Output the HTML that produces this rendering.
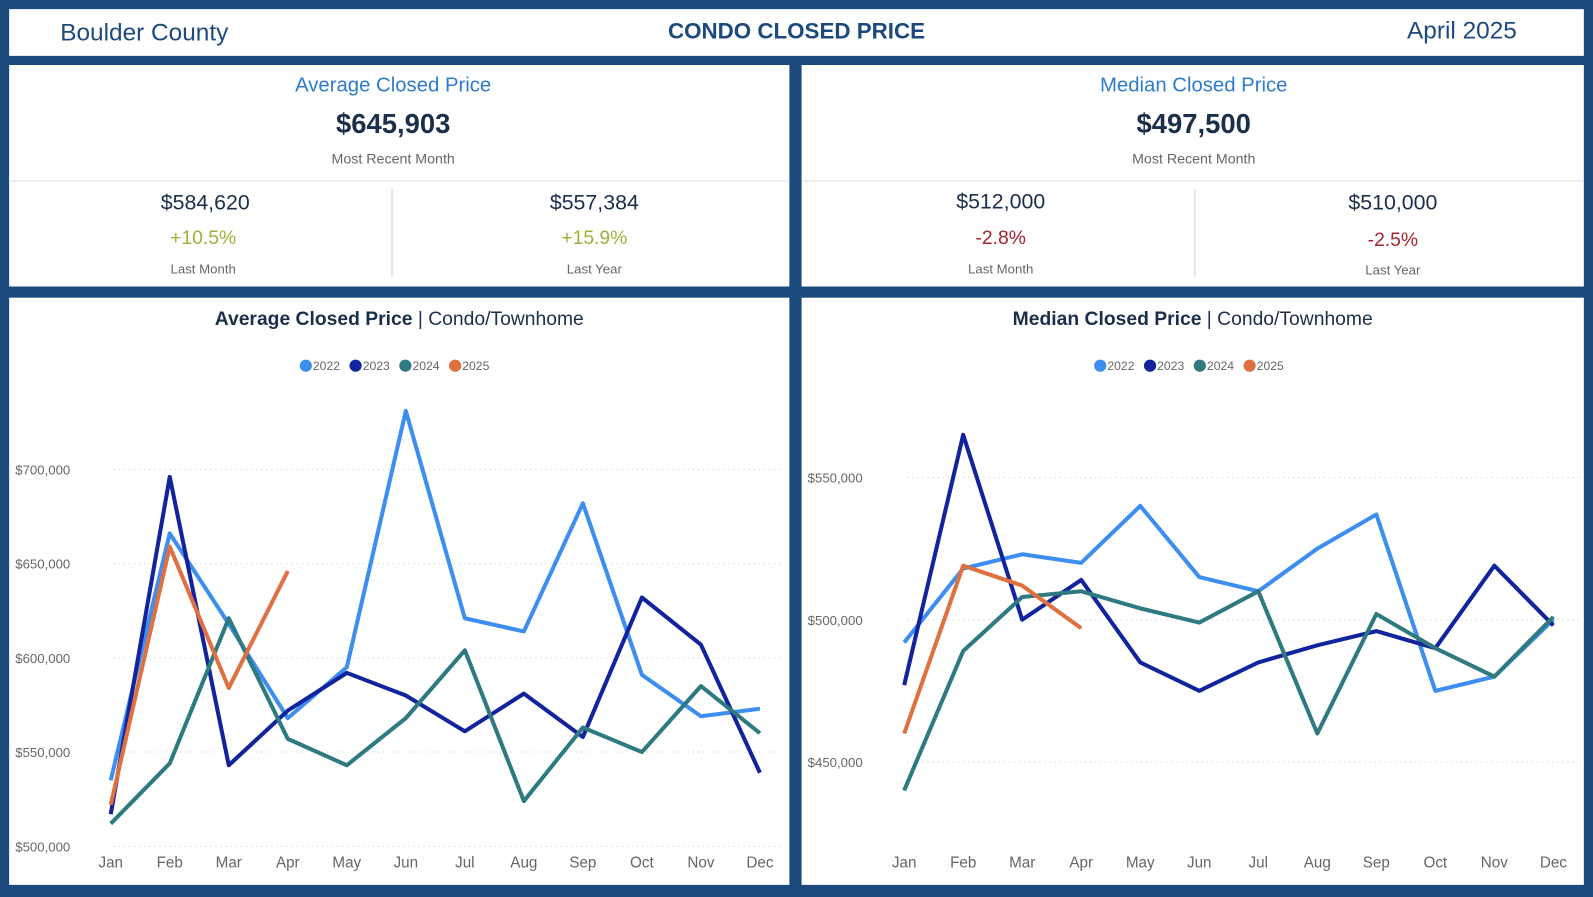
<!DOCTYPE html>
<html><head><meta charset="utf-8"><style>
html,body{margin:0;width:1593px;height:897px;background:#1d4a7c;overflow:hidden}
#wrap{position:absolute;left:0;top:0;width:1568px;height:883px;transform:scale(1.01594);transform-origin:0 0;font-family:"Liberation Sans",sans-serif}
.p{position:absolute;background:#fff}
.t{position:absolute;white-space:nowrap;transform:translateX(-50%)}
</style></head><body>
<div id="wrap">
<div class="p" style="left:9px;top:9px;width:1550px;height:46px">
 <div class="t" style="left:133px;top:10px;font-size:24px;color:#1d4a7c">Boulder County</div>
 <div class="t" style="left:775px;top:9px;font-size:22px;font-weight:bold;color:#1d4a7c">CONDO CLOSED PRICE</div>
 <div class="t" style="left:1430px;top:8px;font-size:24px;color:#1d4a7c">April 2025</div>
</div>

<div class="p" style="left:9px;top:64px;width:768px;height:218px">
 <div class="t" style="left:378px;top:9px;font-size:20px;color:#2f7ccc">Average Closed Price</div>
 <div class="t" style="left:378px;top:43px;font-size:27px;font-weight:bold;color:#1b2f4a">$645,903</div>
 <div class="t" style="left:378px;top:84px;font-size:14px;color:#666">Most Recent Month</div>
 <div style="position:absolute;left:0;top:113px;width:768px;height:2px;background:#eee"></div>
 <div style="position:absolute;left:376px;top:122px;width:2px;height:86px;background:#e4e4e4"></div>
 <div class="t" style="left:193px;top:124px;font-size:21px;color:#1b2f4a">$584,620</div>
 <div class="t" style="left:191px;top:160px;font-size:19px;color:#9ab33a">+10.5%</div>
 <div class="t" style="left:191px;top:193px;font-size:13px;color:#666">Last Month</div>
 <div class="t" style="left:576px;top:124px;font-size:21px;color:#1b2f4a">$557,384</div>
 <div class="t" style="left:576px;top:160px;font-size:19px;color:#9ab33a">+15.9%</div>
 <div class="t" style="left:576px;top:193px;font-size:13px;color:#666">Last Year</div>
</div>

<div class="p" style="left:789px;top:64px;width:770px;height:218px">
 <div class="t" style="left:386px;top:9px;font-size:20px;color:#2f7ccc">Median Closed Price</div>
 <div class="t" style="left:386px;top:43px;font-size:27px;font-weight:bold;color:#1b2f4a">$497,500</div>
 <div class="t" style="left:386px;top:84px;font-size:14px;color:#666">Most Recent Month</div>
 <div style="position:absolute;left:0;top:113px;width:770px;height:2px;background:#eee"></div>
 <div style="position:absolute;left:386px;top:122px;width:2px;height:86px;background:#e4e4e4"></div>
 <div class="t" style="left:196px;top:123px;font-size:21px;color:#1b2f4a">$512,000</div>
 <div class="t" style="left:196px;top:160px;font-size:19px;color:#a3232e">-2.8%</div>
 <div class="t" style="left:196px;top:193px;font-size:13px;color:#666">Last Month</div>
 <div class="t" style="left:582px;top:124px;font-size:21px;color:#1b2f4a">$510,000</div>
 <div class="t" style="left:582px;top:162px;font-size:19px;color:#a3232e">-2.5%</div>
 <div class="t" style="left:582px;top:194px;font-size:13px;color:#666">Last Year</div>
</div>

<div class="p" style="left:9px;top:293px;width:768px;height:578px">
 <svg id="c1" width="768" height="578"></svg>
</div>
<div class="p" style="left:789px;top:293px;width:770px;height:578px">
 <svg id="c2" width="770" height="578"></svg>
</div>
</div>

<script>
const months=["Jan","Feb","Mar","Apr","May","Jun","Jul","Aug","Sep","Oct","Nov","Dec"];
const years=["2022","2023","2024","2025"];
const colors=["#3d8ef0","#12239e","#2e7a80","#e07040"];
const avg2022=[535,666,618,568,595,731,621,614,682,591,569,573];
const avg2023=[517,696,543,572,592,580,561,581,558,632,607,539];
const avg2024=[512,544,621,557,543,568,604,524,563,550,585,560];
const avg2025=[522,659,584,646];
const med2022=[492,518,523,520,540,515,510,525,537,475,480,500];
const med2023=[477,565,500,514,485,475,485,491,496,490,519,498];
const med2024=[440,489,508,510,504,499,510,460,502,490,480,501];
const med2025=[460,519,512,497];
const avgTicks=[500,550,600,650,700];
const medTicks=[450,500,550];
const NS="http://www.w3.org/2000/svg";
function mk(svg,tag,attrs){const e=document.createElementNS(NS,tag);for(const k in attrs)e.setAttribute(k,attrs[k]);svg.appendChild(e);return e;}
function draw(id,title,series,ticks,vMin,vMax,yTop,yBot,x0,x1,legendX,w){
 const svg=document.getElementById(id);
 const sx=i=>x0+(x1-x0)*i/11;
 const sy=v=>yBot-(v-vMin)/(vMax-vMin)*(yBot-yTop);
 const tt=mk(svg,'text',{x:w/2,y:27,'text-anchor':'middle','font-size':19,fill:'#1b2f4a'});
 
 
 tt.innerHTML='<tspan font-weight="bold">'+title+'</tspan> | Condo/Townhome';
 years.forEach((y,i)=>{
  const g=mk(svg,'g',{});
  
  
  const lx=legendX+i*49;
  mk(g,'circle',{cx:lx,cy:67,r:6,fill:colors[i]});
  const t=mk(g,'text',{x:lx+7,y:71,'font-size':12,fill:'#666'});t.textContent=y;
 });
 ticks.forEach(v=>{
  const gl=mk(svg,'line',{x1:x0+3,x2:w-5,y1:sy(v),y2:sy(v),stroke:'#ccc','stroke-dasharray':'1 4'});
  
  
  const t=mk(svg,'text',{x:6,y:sy(v)+5,'font-size':13,fill:'#666'});
  
  
  t.textContent='$'+v+',000';
 });
 months.forEach((m,i)=>{
  const t=mk(svg,'text',{x:sx(i),y:561,'text-anchor':'middle','font-size':15,fill:'#666'});
  
  
  t.textContent=m;
 });
 series.forEach((s,k)=>{
  const p=mk(svg,'polyline',{points:s.map((v,i)=>sx(i)+','+sy(v)).join(' '),fill:'none',stroke:colors[k],'stroke-width':4,'stroke-linejoin':'round'});
  
  
 });
}
draw('c1','Average Closed Price',[avg2022,avg2023,avg2024,avg2025],avgTicks,500,700,169,540,100,739,292,768);
draw('c2','Median Closed Price',[med2022,med2023,med2024,med2025],medTicks,450,550,177,457,101,740,294,770);
</script>
</body></html>
